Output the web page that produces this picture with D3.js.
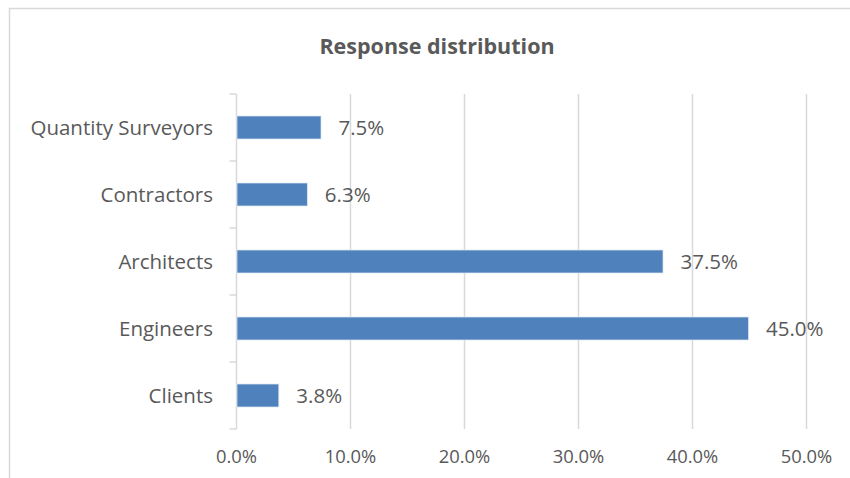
<!DOCTYPE html>
<html>
<head>
<meta charset="utf-8">
<script src="https://cdn.jsdelivr.net/npm/d3@7"></script>
<style>
  body { margin: 0; background: #fff; }
  svg { display: block; }
  text { font-family: "Open Sans", Lato, sans-serif; fill: #595959; }
</style>
</head>
<body>
<svg id="chart" width="850" height="478"></svg>
<script>
// Respondent groups and their share of responses
const categories = ["Quantity Surveyors", "Contractors", "Architects", "Engineers", "Clients"];
const shares = [0.075, 0.063, 0.375, 0.45, 0.038];
const shareLabels = ["7.5%", "6.3%", "37.5%", "45.0%", "3.8%"];
const xTicks = [0, 0.1, 0.2, 0.3, 0.4, 0.5];

const svg = d3.select("#chart");
const W = 850, H = 478;

// outer chart frame (top and left edges are visible)
svg.append("path")
  .attr("d", `M9.5,${H} V8.5 H${W}`)
  .attr("fill", "none")
  .attr("stroke", "#d9d9d9")
  .attr("stroke-width", 1.5);

svg.append("text")
  .attr("x", 437)
  .attr("y", 54)
  .attr("text-anchor", "middle")
  .attr("font-size", 21.5)
  .attr("font-weight", "bold")
  .text("Response distribution");

const plot = { left: 236.5, right: 806.5, top: 94, bottom: 429 };

const x = d3.scaleLinear().domain([0, 0.5]).range([plot.left, plot.right]);
const y = d3.scaleBand()
  .domain(categories)
  .range([plot.top, plot.bottom])
  .paddingInner(0.657)
  .paddingOuter(0.657 / 2);

// vertical gridlines
svg.append("g")
  .selectAll("line")
  .data(xTicks.slice(1))
  .join("line")
  .attr("x1", d => x(d)).attr("x2", d => x(d))
  .attr("y1", plot.top).attr("y2", plot.bottom)
  .attr("stroke", "#d9d9d9")
  .attr("stroke-width", 1.5);

// x tick labels
svg.append("g")
  .selectAll("text")
  .data(xTicks)
  .join("text")
  .attr("x", d => x(d))
  .attr("y", 463)
  .attr("text-anchor", "middle")
  .attr("font-size", 18.4)
  .text(d => d3.format(".1%")(d));

// category axis line with ticks at band boundaries
const step = y.step();
const boundaries = d3.range(categories.length + 1).map(i => plot.top + i * step);
const axisG = svg.append("g");
axisG.append("line")
  .attr("x1", plot.left).attr("x2", plot.left)
  .attr("y1", plot.top).attr("y2", plot.bottom)
  .attr("stroke", "#d9d9d9").attr("stroke-width", 1.5);
axisG.selectAll("line.tick")
  .data(boundaries)
  .join("line")
  .attr("class", "tick")
  .attr("x1", plot.left - 7).attr("x2", plot.left)
  .attr("y1", d => d).attr("y2", d => d)
  .attr("stroke", "#d9d9d9").attr("stroke-width", 1.5);

// category labels
svg.append("g")
  .selectAll("text")
  .data(categories)
  .join("text")
  .attr("x", 213)
  .attr("y", d => y(d) + y.bandwidth() / 2)
  .attr("dy", "0.35em")
  .attr("text-anchor", "end")
  .attr("font-size", 20.5)
  .text(d => d);

// bars
const rows = categories.map((c, i) => ({ c, v: shares[i], label: shareLabels[i] }));
svg.append("g")
  .selectAll("rect")
  .data(rows)
  .join("rect")
  .attr("x", x(0) + 0.5)
  .attr("y", d => y(d.c))
  .attr("width", d => x(d.v) - x(0) - 1.5)
  .attr("height", y.bandwidth())
  .attr("fill", "#4f81bd")
  .attr("stroke", "#dbe5f1")
  .attr("stroke-width", 0.75);

// value labels
svg.append("g")
  .selectAll("text")
  .data(rows)
  .join("text")
  .attr("x", d => x(d.v) + 16.5)
  .attr("y", d => y(d.c) + y.bandwidth() / 2)
  .attr("dy", "0.37em")
  .attr("font-size", 20.5)
  .text(d => d.label);
</script>
</body>
</html>
